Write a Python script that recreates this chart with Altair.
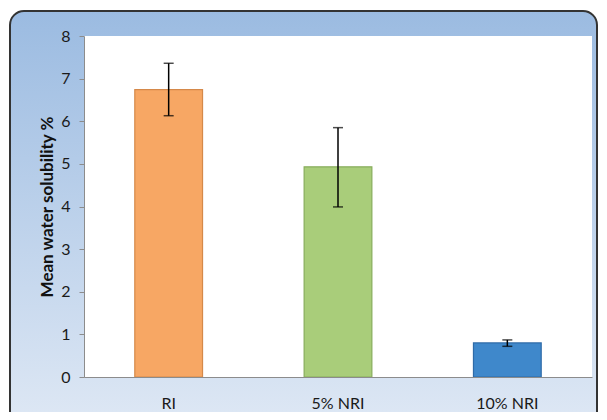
import altair as alt
import pandas as pd

groups = ["RI", "5% NRI", "10% NRI"]
means = [6.74, 4.93, 0.80]
lower = [6.13, 3.99, 0.72]
upper = [7.36, 5.85, 0.87]
fills = ["#F7A764", "#A9CD7A", "#3F88CB"]
edges = ["#D5894A", "#88AD5C", "#2F6BA8"]

df = pd.DataFrame({"group": groups, "mean": means, "lower": lower, "upper": upper})
dummy = pd.DataFrame({"k": [0]})

W, H = 508, 341
FONT = "Lato"

panel = alt.Chart(dummy).mark_rect(
    cornerRadius=14,
    stroke="#333333",
    strokeWidth=2,
    fill=alt.Gradient(
        gradient="linear",
        stops=[alt.GradientStop(color="#9BBBE1", offset=0),
               alt.GradientStop(color="#E0E9F5", offset=1)],
        x1=0, x2=0, y1=0, y2=1,
    ),
).encode(x=alt.value(-74), x2=alt.value(513), y=alt.value(-25), y2=alt.value(400))

plotbg = alt.Chart(dummy).mark_rect(fill="white").encode(
    x=alt.value(0), x2=alt.value(W), y=alt.value(0), y2=alt.value(H)
)

xenc = alt.X(
    "group:N",
    sort=groups,
    scale=alt.Scale(paddingInner=0.6, paddingOuter=0.3),
    axis=alt.Axis(title=None, labelAngle=0, ticks=False, labelPadding=18,
                  domainColor="#8C8C8C", labelFont=FONT, labelFontSize=16,
                  labelColor="#1a1a1a", zindex=1),
)
yscale = alt.Scale(domain=[0, 8])

bars = alt.Chart(df).mark_bar(strokeWidth=1.2).encode(
    x=xenc,
    y=alt.Y("mean:Q", scale=yscale,
            axis=alt.Axis(title="Mean water solubility %", values=list(range(0, 9)),
                          grid=False, tickSize=5, tickColor="#8C8C8C",
                          domainColor="#8C8C8C", labelPadding=9,
                          labelFont=FONT, labelFontSize=16, labelColor="#1a1a1a",
                          titleFont=FONT, titleFontSize=17, titleFontWeight="bold",
                          titleColor="#111111", titleX=-37, titleY=H / 2,
                          titleAngle=270, titleBaseline="middle", titleAlign="center",
                          zindex=1)),
    color=alt.Color("group:N", scale=alt.Scale(domain=groups, range=fills), legend=None),
    stroke=alt.Stroke("group:N", scale=alt.Scale(domain=groups, range=edges), legend=None),
)

rules = alt.Chart(df).mark_rule(color="black", strokeWidth=1.5).encode(
    x=alt.X("group:N", sort=groups), y=alt.Y("lower:Q", scale=yscale), y2="upper:Q"
)
cap_hi = alt.Chart(df).mark_tick(color="black", size=10, thickness=1.5).encode(
    x=alt.X("group:N", sort=groups), y=alt.Y("upper:Q", scale=yscale)
)
cap_lo = alt.Chart(df).mark_tick(color="black", size=10, thickness=1.5).encode(
    x=alt.X("group:N", sort=groups), y=alt.Y("lower:Q", scale=yscale)
)

chart = alt.layer(panel, plotbg, bars, rules, cap_hi, cap_lo).properties(
    width=W, height=H,
    autosize=alt.AutoSizeParams(type="none"),
    padding={"left": 76, "top": 28, "right": 7, "bottom": 35},
    background="white",
).configure_view(stroke=None)

chart.save("out.html", embed_options={"renderer": "svg", "actions": False})
